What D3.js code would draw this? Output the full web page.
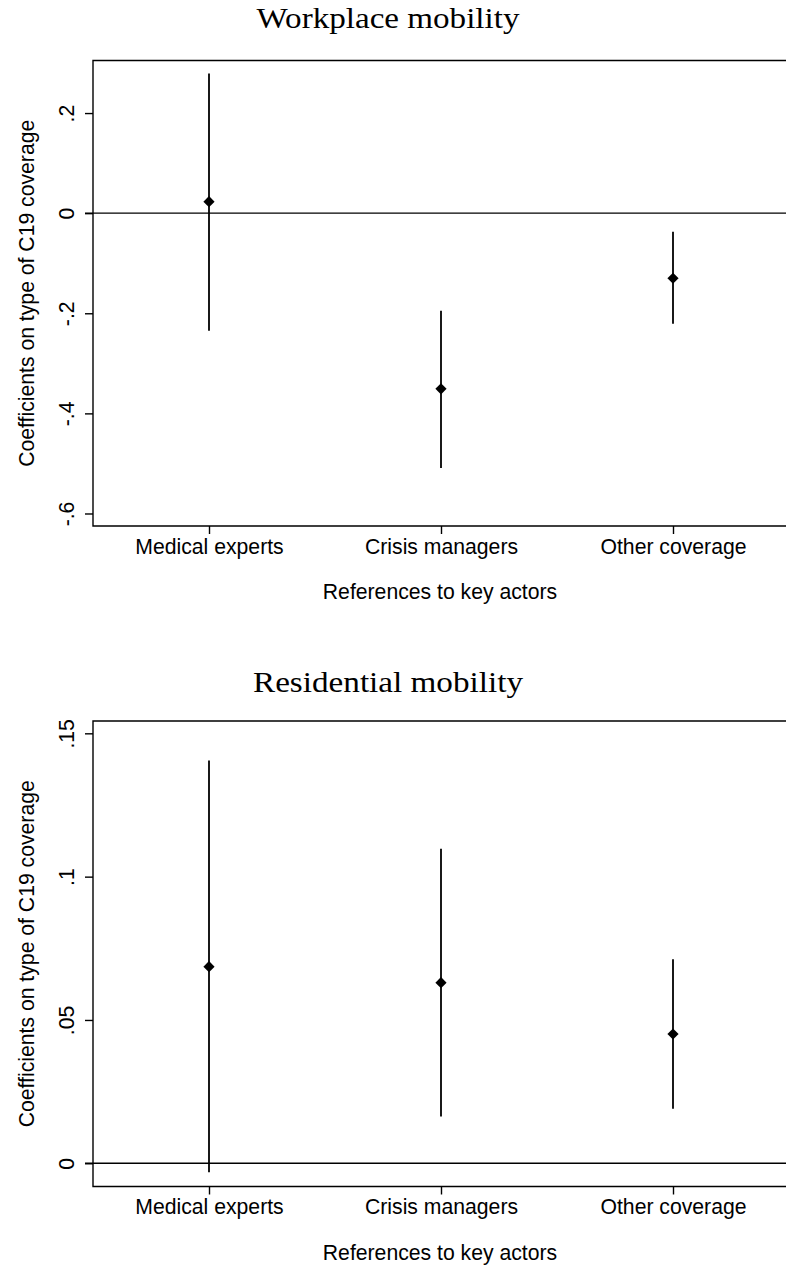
<!DOCTYPE html>
<html>
<head>
<meta charset="utf-8">
<script src="https://cdn.jsdelivr.net/npm/d3@7"></script>
<style>
  body { margin: 0; background: #fff; }
  svg { display: block; }
  .tick-label, .axis-title, .cat-label { font-family: 'Liberation Sans', Arial, sans-serif; font-size: 21.2px; fill: #000; }
  .panel-title { font-family: 'Liberation Serif', 'Times New Roman', serif; font-size: 29px; fill: #000; }
</style>
</head>
<body>
<div id="chart"></div>
<script>
// categories on the x axis
const categories = ['Medical experts', 'Crisis managers', 'Other coverage']

// workplace mobility: point estimate and 95% CI
const workplaceCoef = [0.023, -0.351, -0.130]
const workplaceLower = [-0.235, -0.509, -0.221]
const workplaceUpper = [0.279, -0.195, -0.037]
const workplaceTicks = [-0.6, -0.4, -0.2, 0, 0.2]
const workplaceDomain = [-0.625, 0.305]

// residential mobility
const residentialCoef = [0.0686, 0.0630, 0.0451]
const residentialLower = [-0.0031, 0.0163, 0.0190]
const residentialUpper = [0.1405, 0.1097, 0.0712]
const residentialTicks = [0, 0.05, 0.1, 0.15]
const residentialDomain = [-0.0081, 0.1543]

const width = 786
const height = 1267

const svg = d3.select('#chart')
  .append('svg')
  .attr('width', width)
  .attr('height', height)

// stata style tick labels: .2, -.4, 0
const stataFmt = (v) => {
  let s = String(+v.toFixed(4))
  return s.replace(/^(-?)0\./, '$1.')
}

function drawPanel (opts) {
  const left = 93
  const right = 789
  const top = opts.top
  const bottom = opts.top + 465.5

  const xs = d3.scalePoint()
    .domain(categories)
    .range([left, right])
    .padding(0.5)
  const ys = d3.scaleLinear()
    .domain(opts.domain)
    .range([bottom, top])

  const g = svg.append('g')

  // title
  g.append('text')
    .attr('class', 'panel-title')
    .attr('x', 388)
    .attr('y', opts.titleY)
    .attr('text-anchor', 'middle')
    .attr('textLength', opts.titleWidth)
    .attr('lengthAdjust', 'spacingAndGlyphs')
    .text(opts.title)

  // frame (left, top, bottom; right side runs off the image)
  g.append('path')
    .attr('d', `M${right},${top}H${left}V${bottom}H${right}`)
    .attr('fill', 'none')
    .attr('stroke', '#000')
    .attr('stroke-width', 1.4)

  // y axis
  const yAxis = g.append('g')
    .attr('transform', `translate(${left},0)`)
    .call(d3.axisLeft(ys).tickValues(opts.ticks).tickSize(8).tickFormat(stataFmt))
  yAxis.select('.domain').remove()
  yAxis.selectAll('.tick line').attr('stroke', '#000').attr('stroke-width', 1.4)
  yAxis.selectAll('.tick text')
    .attr('class', 'tick-label')
    .attr('x', null).attr('dy', null)
    .attr('text-anchor', 'middle')
    .attr('transform', 'translate(-19,0) rotate(-90)')

  // x axis
  const xAxis = g.append('g')
    .attr('transform', `translate(0,${bottom})`)
    .call(d3.axisBottom(xs).tickSize(8))
  xAxis.select('.domain').remove()
  xAxis.selectAll('.tick line').attr('stroke', '#000').attr('stroke-width', 1.4)
  xAxis.selectAll('.tick text')
    .attr('class', 'cat-label')
    .attr('y', 27.5).attr('dy', null)

  // axis titles
  g.append('text')
    .attr('class', 'axis-title')
    .attr('x', 440)
    .attr('y', bottom + 73)
    .attr('text-anchor', 'middle')
    .text('References to key actors')
  g.append('text')
    .attr('class', 'axis-title')
    .attr('text-anchor', 'middle')
    .attr('transform', `translate(34,${(top + bottom) / 2}) rotate(-90)`)
    .text('Coefficients on type of C19 coverage')

  // zero reference line
  g.append('line')
    .attr('x1', left - 8).attr('x2', width)
    .attr('y1', ys(0)).attr('y2', ys(0))
    .attr('stroke', '#000')
    .attr('stroke-width', 1.4)

  const data = categories.map((c, i) => ({
    cat: c, coef: opts.coef[i], lo: opts.lower[i], hi: opts.upper[i]
  }))

  // CI spikes
  g.selectAll('.ci')
    .data(data)
    .join('line')
    .attr('class', 'ci')
    .attr('x1', (d) => xs(d.cat)).attr('x2', (d) => xs(d.cat))
    .attr('y1', (d) => ys(d.lo)).attr('y2', (d) => ys(d.hi))
    .attr('stroke', '#000')
    .attr('stroke-width', 1.8)

  // diamond markers
  const diamond = d3.symbol().type(d3.symbolDiamond2).size(80)
  g.selectAll('.pt')
    .data(data)
    .join('path')
    .attr('class', 'pt')
    .attr('d', diamond)
    .attr('transform', (d) => `translate(${xs(d.cat)},${ys(d.coef)})`)
    .attr('fill', '#000')
}

drawPanel({
  title: 'Workplace mobility', titleY: 28, top: 60.5, titleWidth: 263,
  domain: workplaceDomain, ticks: workplaceTicks,
  coef: workplaceCoef, lower: workplaceLower, upper: workplaceUpper
})

drawPanel({
  title: 'Residential mobility', titleY: 692, top: 721, titleWidth: 270,
  domain: residentialDomain, ticks: residentialTicks,
  coef: residentialCoef, lower: residentialLower, upper: residentialUpper
})
</script>
</body>
</html>
